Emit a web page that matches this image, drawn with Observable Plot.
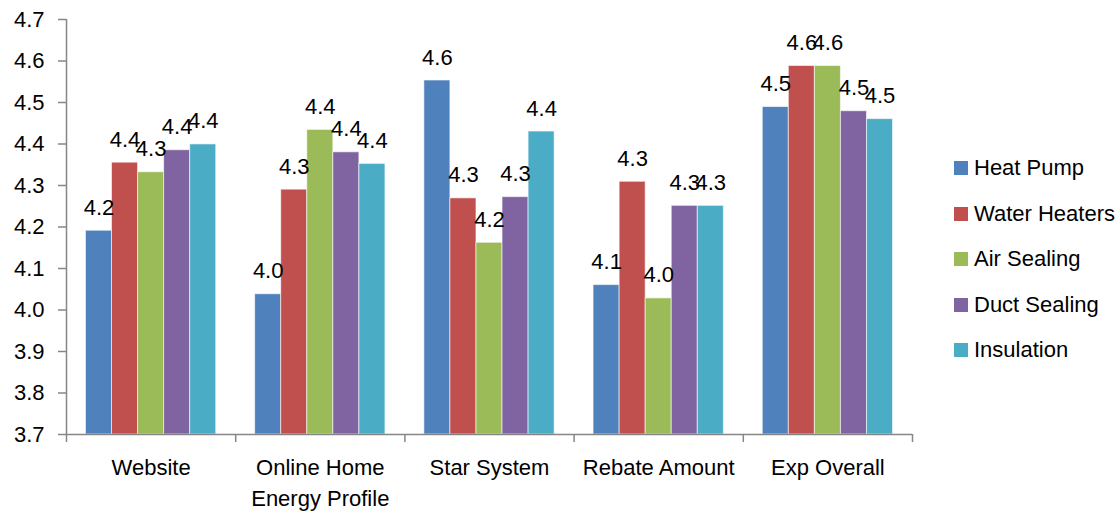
<!DOCTYPE html>
<html><head><meta charset="utf-8">
<script src="https://cdn.jsdelivr.net/npm/d3@7"></script>
<script src="https://cdn.jsdelivr.net/npm/@observablehq/plot@0.6"></script>
<style>
body{margin:0;background:#fff;}
#wrap{position:relative;width:1117px;height:514px;font-family:"Liberation Sans",Arial,sans-serif;}
#legend{position:absolute;left:954px;top:0;}
.item{position:absolute;left:0;display:flex;align-items:center;white-space:nowrap;font-size:22px;color:#000;height:24px;}
.sw{width:14px;height:14px;margin-right:6px;flex:none;}
</style></head><body><div id="wrap"><div id="legend"></div></div>
<script>
// ---- data ----
const categories = ["Website", "Online Home\nEnergy Profile", "Star System", "Rebate Amount", "Exp Overall"];
const seriesNames = ["Heat Pump", "Water Heaters", "Air Sealing", "Duct Sealing", "Insulation"];
const seriesColors = ["#4F81BD", "#C0504D", "#9BBB59", "#8064A2", "#4BACC6"];
const heatPump     = [4.191, 4.038, 4.553, 4.060, 4.489];
const waterHeaters = [4.355, 4.290, 4.269, 4.309, 4.588];
const airSealing   = [4.332, 4.434, 4.162, 4.028, 4.588];
const ductSealing  = [4.385, 4.380, 4.272, 4.251, 4.479];
const insulation   = [4.399, 4.352, 4.430, 4.251, 4.460];
const yTicks = [3.7, 3.8, 3.9, 4.0, 4.1, 4.2, 4.3, 4.4, 4.5, 4.6, 4.7];

const seriesValues = [heatPump, waterHeaters, airSealing, ductSealing, insulation];
const fmt = d3.format(".1f");
const groupPad = 0.115;
const barW = (1 - 2 * groupPad) / seriesNames.length;
const rows = [];
seriesValues.forEach((vals, si) => vals.forEach((v, ci) => rows.push({
  series: seriesNames[si], si, ci, value: v,
  x1: ci - 0.5 + groupPad + si * barW,
  x2: ci - 0.5 + groupPad + (si + 1) * barW
})));
const boundaries = d3.range(categories.length + 1).map(i => i - 0.5);
const axisColor = "#868686";

const chart = Plot.plot({
  width: 1117,
  height: 514,
  marginLeft: 66,
  marginRight: 205,
  marginTop: 19,
  marginBottom: 80,
  style: {fontFamily: "'Liberation Sans', Arial, sans-serif", fontSize: "22px", color: "#000", background: "transparent"},
  x: {type: "linear", domain: [-0.5, categories.length - 0.5]},
  y: {domain: [3.7, 4.7]},
  color: {domain: seriesNames, range: seriesColors},
  marks: [
    Plot.rect(rows, {x1: "x1", x2: "x2", y1: 3.7, y2: "value", fill: "series", stroke: "white", strokeOpacity: 0.6, strokeWidth: 1}),
    Plot.text(rows, {x: d => (d.x1 + d.x2) / 2, y: "value", text: d => fmt(d.value), lineAnchor: "bottom", dy: -16, fontSize: 22, fill: "#000"}),
    Plot.ruleX([-0.5], {stroke: axisColor, strokeWidth: 1.5}),
    Plot.ruleY([3.7], {stroke: axisColor, strokeWidth: 1.5}),
    Plot.axisY({ticks: yTicks, tickFormat: fmt, tickSize: 8, tickPadding: 14, fontSize: 22, stroke: axisColor, strokeWidth: 1.5, fill: "#000", label: null}),
    Plot.axisX({ticks: boundaries, tickFormat: () => "", tickSize: 8, stroke: axisColor, strokeWidth: 1.5, label: null}),
    Plot.text(categories, {x: (d, i) => i, y: 3.7, text: d => d, lineAnchor: "top", dy: 19, lineHeight: 1.4, fontSize: 22, fill: "#000"})
  ]
});
document.getElementById("wrap").prepend(chart);

const legend = document.getElementById("legend");
seriesNames.forEach((name, i) => {
  const item = document.createElement("div");
  item.className = "item";
  item.style.top = (168 - 12 + i * 45.6) + "px";
  const sw = document.createElement("div");
  sw.className = "sw";
  sw.style.background = seriesColors[i];
  const label = document.createElement("span");
  label.textContent = name;
  item.append(sw, label);
  legend.append(item);
});
</script></body></html>
